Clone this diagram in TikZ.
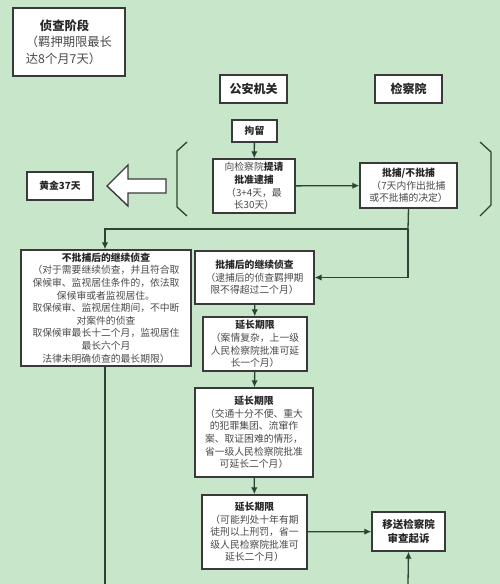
\documentclass[tikz,border=0pt]{standalone}
\usepackage{fontspec}
\setmainfont{Noto Sans CJK SC}
\usetikzlibrary{arrows.meta}
\definecolor{bg}{HTML}{C8E6C9}
\definecolor{ln}{HTML}{2B4433}
\definecolor{bd}{HTML}{3A3A3A}
\definecolor{tx}{HTML}{4A4A4A}
\tikzset{
  box/.style={draw=bd, line width=1.4pt, fill=white, rectangle, inner sep=0pt, align=center,
    text=tx, font=\fontsize{9.8}{12.6}\selectfont},
  hbox/.style={box, font=\fontsize{12}{15}\selectfont\bfseries, text=black!85},
  conn/.style={draw=ln, line width=1.3pt},
  arr/.style={conn, -{Latex[length=7pt,width=6.5pt]}},
}
\newcommand{\hd}[1]{{\bfseries\color{black!85}#1}}
\begin{document}
\begin{tikzpicture}[x=1pt,y=-1pt]
\fill[bg] (0,0) rectangle (500,584);
\useasboundingbox (0,0) rectangle (500,584);

\node[box, minimum width=112pt, minimum height=68pt, align=left, font=\fontsize{12.3}{16.5}\selectfont] (title) at (69,42)
  {\hspace*{14pt}\hd{侦查阶段}\\（羁押期限最长\\达8个月7天）};
\node[hbox, minimum width=67pt, minimum height=28pt] (ga) at (253.5,89) {公安机关};
\node[hbox, minimum width=67pt, minimum height=28pt] (jc) at (408.5,89) {检察院};
\node[box, minimum width=45pt, minimum height=22pt] (jl) at (254.5,131) {\hd{拘留}};
\node[box, minimum width=82pt, minimum height=54pt] (tq) at (254,186)
  {向检察院\hd{提请}\\\hd{批准逮捕}\\（3+4天，最\\长30天）};
\node[box, minimum width=97pt, minimum height=45pt] (pb) at (408.5,185.5)
  {\hd{批捕/不批捕}\\（7天内作出批捕\\或不批捕的决定）};
\node[box, minimum width=66pt, minimum height=28pt] (hj) at (60,186) {\hd{黄金37天}};
\node[box, minimum width=170pt, minimum height=116pt] (bpb) at (106,308)
  {\hd{不批捕后的继续侦查}\\（对于需要继续侦查，并且符合取\\保候审、监视居住条件的，依法取\\保候审或者监视居住。\\取保候审、监视居住期间，不中断\\对案件的侦查\\取保候审最长十二个月，监视居住\\最长六个月\\法律未明确侦查的最长期限）};
\node[box, minimum width=119pt, minimum height=53pt] (phh) at (254.5,277.5)
  {\hd{批捕后的继续侦查}\\（逮捕后的侦查羁押期\\限不得超过二个月）};
\node[box, minimum width=104pt, minimum height=54pt] (yc1) at (255,344)
  {\hd{延长期限}\\（案情复杂，上一级\\人民检察院批准可延\\长一个月）};
\node[box, minimum width=118pt, minimum height=89pt] (yc2) at (254,432.5)
  {\hd{延长期限}\\（交通十分不便、重大\\的犯罪集团、流窜作\\案、取证困难的情形，\\省一级人民检察院批准\\可延长二个月）};
\node[box, minimum width=105pt, minimum height=74pt] (yc3) at (254.5,532)
  {\hd{延长期限}\\（可能判处十年有期\\徒刑以上刑罚，省一\\级人民检察院批准可\\延长二个月）};
\node[box, minimum width=73pt, minimum height=39pt, font=\fontsize{10.5}{14}\selectfont] (ys) at (408.5,531.5)
  {\hd{移送检察院}\\\hd{审查起诉}};

% brackets
\draw[ln, line width=1.3pt] (187,142)--(177,151)--(177,207)--(187,216);
\draw[ln, line width=1.3pt] (480,142)--(491,152)--(491,205)--(480,216);

% hollow arrow
\draw[bd, line width=1.4pt, fill=white, line join=miter]
  (166,179)--(128,179)--(128,165)--(107,186)--(128,206)--(128,193)--(166,193)--cycle;

% connectors
\coordinate (j1) at (408,229);
\coordinate (b1) at (105,584);
\coordinate (b2) at (408,584);
\draw[arr] (jl) -- (tq);
\draw[arr] (tq) -- (pb);
\draw[conn] (pb.south) -- (j1);
\draw[arr] (j1) -| (bpb.north -| 105,0);
\draw[arr] (j1) |- (phh.east);
\draw[conn] (bpb.south -| b1) -- (b1);
\draw[arr] (phh) -- (yc1);
\draw[arr] (yc1) -- (yc2);
\draw[arr] (yc2) -- (yc3);
\draw[arr] (yc3) -- (ys);
\draw[arr] (b2) -- (ys.south);
\end{tikzpicture}
\end{document}
